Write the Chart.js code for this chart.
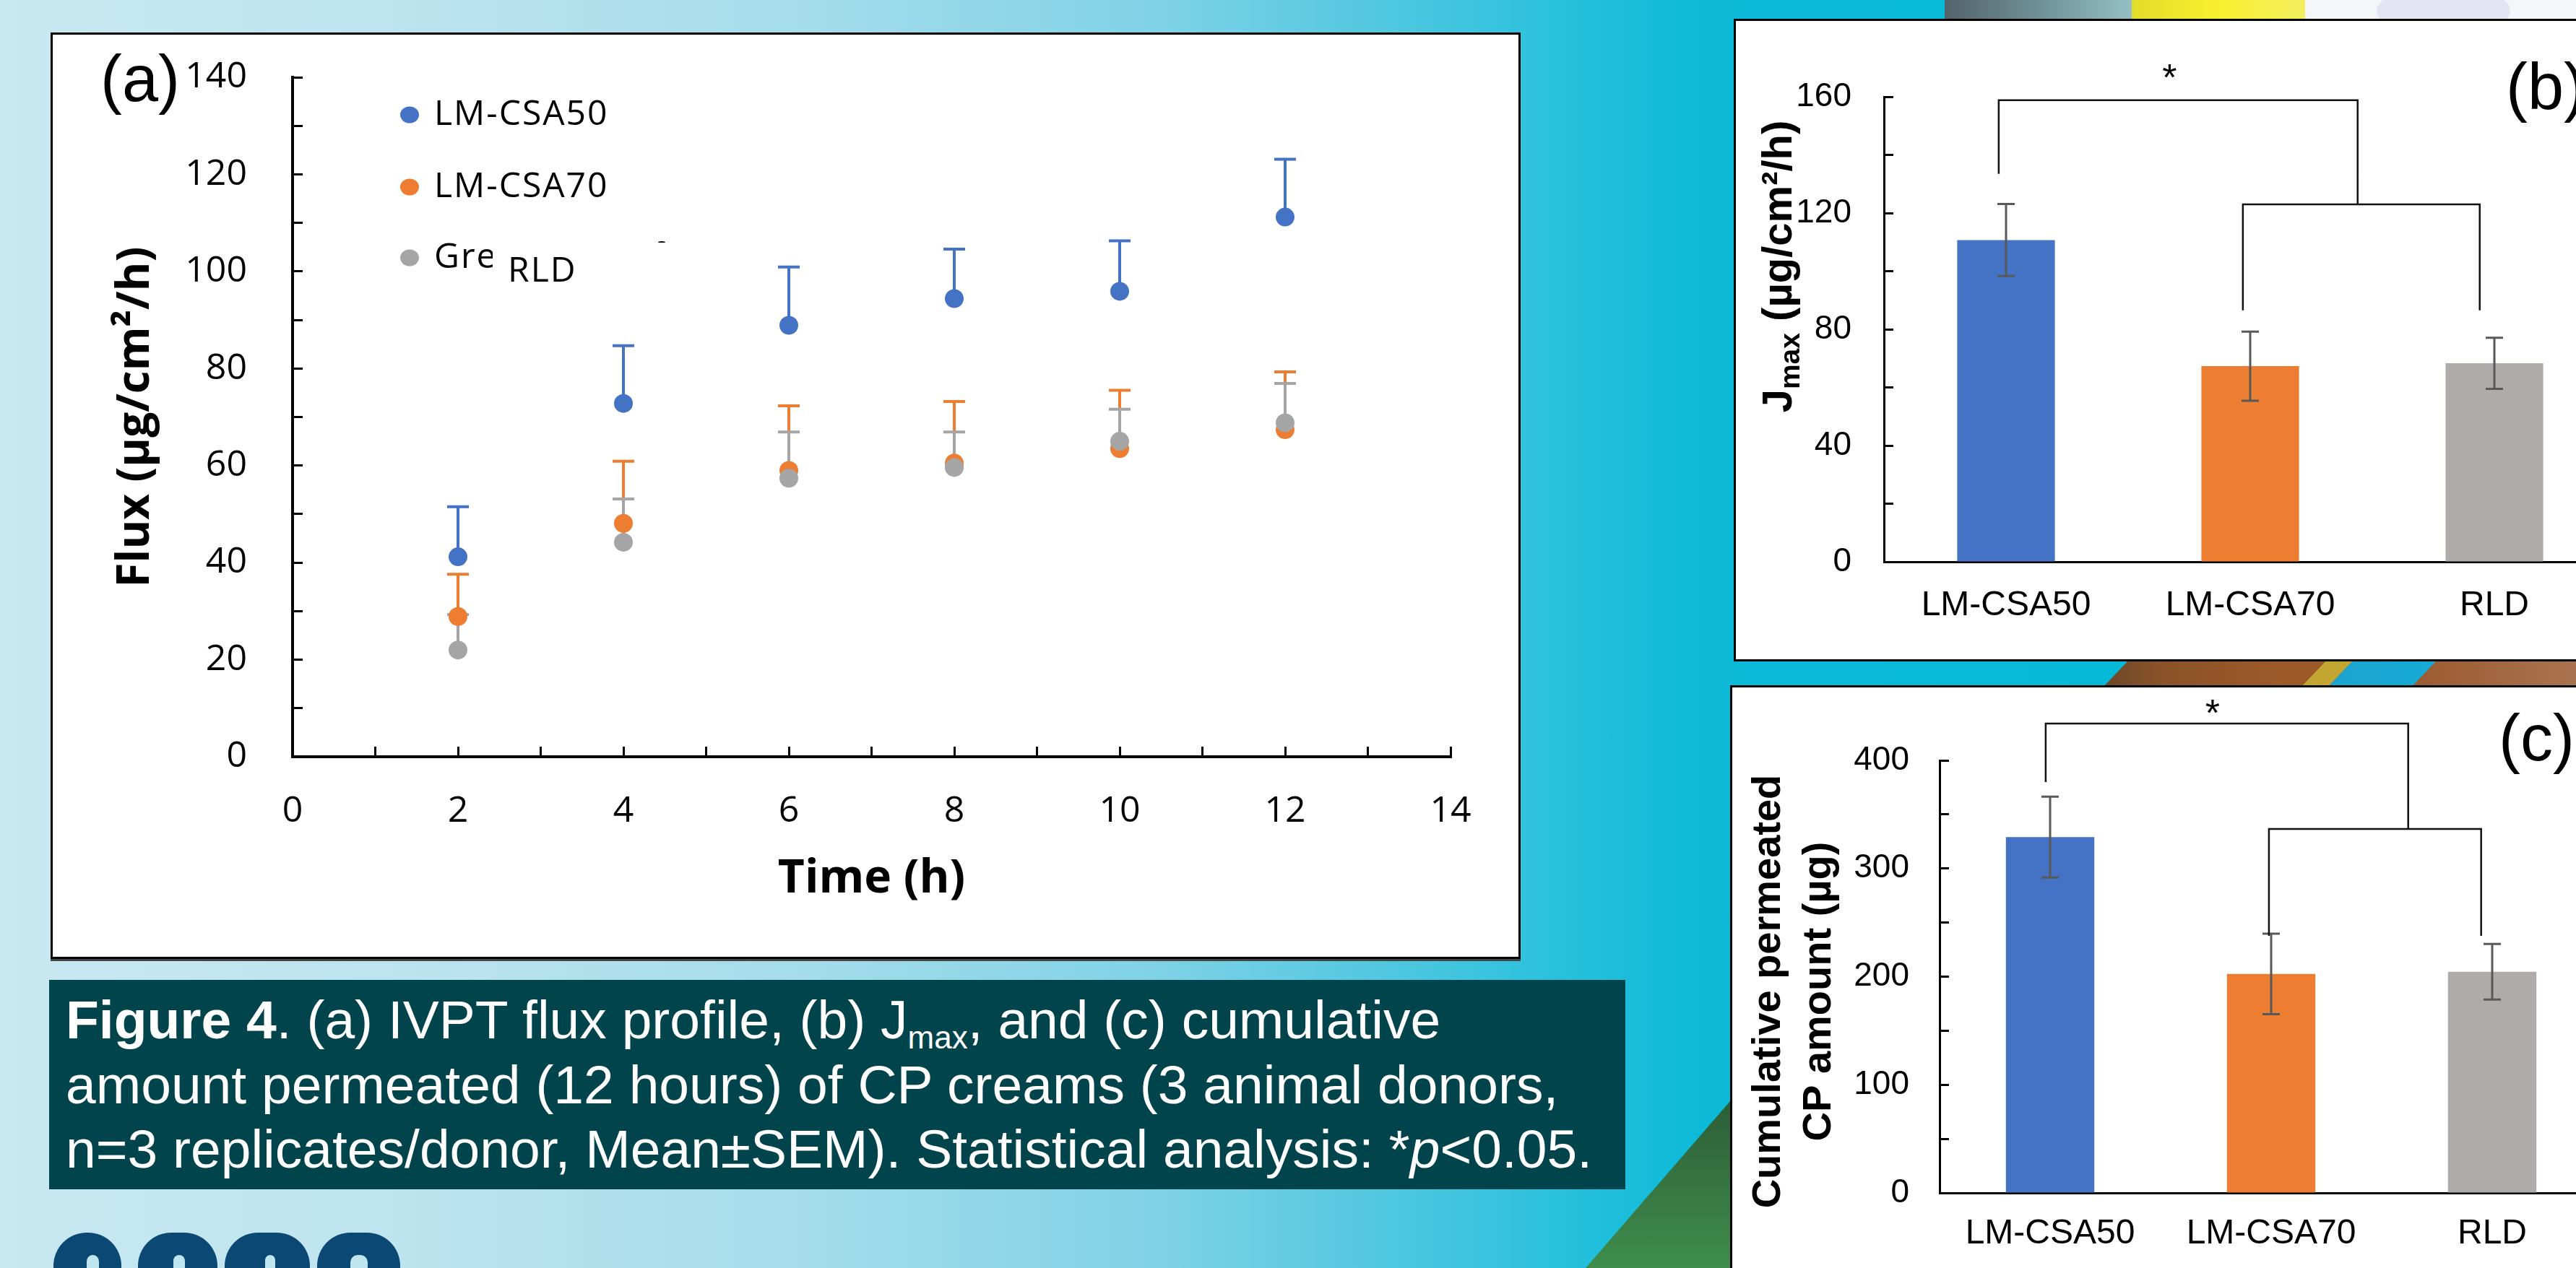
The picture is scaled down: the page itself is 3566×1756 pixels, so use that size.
<!DOCTYPE html>
<html>
<head>
<meta charset="utf-8">
<script src="https://cdn.jsdelivr.net/npm/chart.js@4.4.0/dist/chart.umd.min.js"></script>
<style>
html, body { margin: 0; padding: 0; }
body {
  width: 3566px; height: 1756px; overflow: hidden; position: relative;
  background: linear-gradient(90deg, #c9e8f1 0%, #bde4ef 15%, #a3dcea 32%, #7fd2e6 45%, #4fc7e0 54%, #2cc1dd 60%, #0cbad8 66%, #00b8d7 100%);
}
.abs { position: absolute; }
.panel { position: absolute; background: #fff; border: 3px solid #000; box-sizing: border-box; }
canvas { position: absolute; }
.lbl { position: absolute; font: 90px/90px "Liberation Sans", Arial, sans-serif; color: #000; white-space: nowrap; }
.logo { position: absolute; top: 1707px; height: 60px; background: #0b4873; border-radius: 46px 46px 0 0; }
.hole { position: absolute; top: 31px; height: 40px; background: #bfe5f0; border-radius: 10px 10px 0 0; }
#caption {
  position: absolute; left: 91px; top: 1368px; color: #fff; white-space: nowrap;
  font: 75px/89.5px "Liberation Sans", Arial, sans-serif;
}
#caption sub { font-size: 44px; line-height: 0; vertical-align: -14px; }
</style>
</head>
<body>

<!-- background shapes on the right -->
<div class="abs" style="left:2692px;top:0;width:260px;height:30px;background:linear-gradient(90deg,#53636a,#6f9097 50%,#94c0c5)"></div>
<div class="abs" style="left:2951px;top:0;width:240px;height:30px;background:linear-gradient(90deg,#e2dc2c,#f8f02e 50%,#f3ee60)"></div>
<div class="abs" style="left:3191px;top:0;width:375px;height:30px;background:#f5f6fa"></div>
<div class="abs" style="left:3290px;top:-20px;width:185px;height:70px;border-radius:50%;background:#e3e6f2"></div>

<div class="abs" style="left:2890px;top:912px;width:676px;height:42px;clip-path:polygon(59px 0,676px 0,676px 42px,19px 42px);background:linear-gradient(90deg,#64452a,#8a5229 15%,#9c5a2a 40%)"></div>
<div class="abs" style="left:3180px;top:912px;width:386px;height:42px;clip-path:polygon(43px 0,80px 0,40px 42px,3px 42px);background:#c2a631"></div>
<div class="abs" style="left:3215px;top:912px;width:351px;height:42px;clip-path:polygon(45px 0,161px 0,121px 42px,5px 42px);background:linear-gradient(90deg,#1ba4cf,#10b2dc)"></div>
<div class="abs" style="left:3330px;top:912px;width:236px;height:42px;clip-path:polygon(46px 0,236px 0,236px 42px,6px 42px);background:linear-gradient(90deg,#9a5a30,#a9734f)"></div>

<div class="abs" style="left:2195px;top:1525px;width:200px;height:231px;clip-path:polygon(200px 0,200px 231px,0 231px);background:linear-gradient(180deg,#2d5e37,#3f8d4d)"></div>

<!-- panels -->
<div class="panel" style="left:70px;top:45px;width:2035px;height:1283px;box-shadow:0 3px 0 #444"></div>
<div class="panel" style="left:2400px;top:26px;width:1300px;height:890px"></div>
<div class="panel" style="left:2395px;top:949px;width:1300px;height:900px"></div>

<canvas id="fluxChart" width="2029" height="1277" style="left:73px;top:48px"></canvas>
<canvas id="jmaxChart" width="1240" height="884" style="left:2403px;top:29px"></canvas>
<canvas id="cumChart" width="1245" height="804" style="left:2398px;top:952px"></canvas>

<div class="lbl" style="left:139px;top:64px">(a)</div>
<div class="lbl" style="left:3469px;top:75px">(b)</div>
<div class="lbl" style="left:3459px;top:977px">(c)</div>

<!-- caption -->
<div class="abs" style="left:68px;top:1357px;width:2182px;height:290px;background:#02444b"></div>
<div id="caption"><b>Figure 4</b>. (a) IVPT flux profile, (b) J<sub>max</sub>, and (c) cumulative<br>amount permeated (12 hours) of CP creams (3 animal donors,<br>n=3 replicates/donor, Mean±SEM). Statistical analysis: *<i>p</i>&lt;0.05.</div>

<!-- logo -->
<div class="logo" style="left:74px;width:94px"><div class="hole" style="left:46px;width:17px"></div></div>
<div class="logo" style="left:191px;width:110px"><div class="hole" style="left:49px;width:16px"></div></div>
<div class="logo" style="left:311px;width:118px"><div class="hole" style="left:56px;width:14px"></div></div>
<div class="logo" style="left:439px;width:115px"><div class="hole" style="left:46px;width:24px"></div></div>

<script>
// (a) flux profile
const times = [2, 4, 6, 8, 10, 12]
const fluxCSA50 = [41.2, 72.8, 88.9, 94.4, 95.9, 111.2]
const semCSA50 = [10.3, 11.9, 12.0, 10.2, 10.4, 11.9]
const fluxCSA70 = [28.9, 48.1, 59.0, 60.5, 63.5, 67.4]
const semCSA70 = [8.7, 12.8, 13.3, 12.7, 12.0, 11.9]
const fluxRLD = [22.0, 44.2, 57.4, 59.6, 65.0, 68.8]
const semRLD = [7.3, 8.9, 9.5, 7.3, 6.6, 8.1]
const seriesNames = ['LM-CSA50', 'LM-CSA70', 'RLD']

// (b) Jmax and (c) cumulative amount
const products = ['LM-CSA50', 'LM-CSA70', 'RLD']
const jmax = [110.7, 67.3, 68.3]
const jmaxSem = [12.4, 11.9, 8.8]
const cumAmount = [329.0, 202.5, 204.5]
const cumSem = [37.4, 37.2, 25.7]

// significance brackets (category index, value)
const sigJmax = [
  {x0: -0.03, x1: 1.44, y: 158.8, yl: 133.5, yr: 123},
  {x0: 0.97, x1: 1.94, y: 123, yl: 86.5, yr: 86.5}
]
const starJmax = {x: 0.67, y: 168.4}
const sigCum = [
  {x0: -0.02, x1: 1.62, y: 434, yl: 380, yr: 336.6},
  {x0: 0.99, x1: 1.95, y: 336.6, yl: 237.7, yr: 237.7}
]
const starCum = {x: 0.735, y: 448}

const blue = '#4472c4', orange = '#ed7d31', grey = '#a5a5a5'
const barColors = ['#4472c4', '#ed7d31', '#afabab']

Chart.defaults.font.family = '"Liberation Sans", Arial, sans-serif'
Chart.defaults.color = '#000'

// fixed axis boxes so the plot areas land where the figure has them
function fixWidth(w) {
  return s => { s.width = w; s.paddingTop = 0; s.paddingBottom = 0 }
}
function fixHeight(h) {
  return s => { s.height = h; s.paddingLeft = 0; s.paddingRight = 0 }
}

// upper error bars of the flux plot, drawn under all points
const errorBarsA = {
  id: 'errorBarsA',
  beforeDatasetsDraw(chart) {
    const {ctx, scales: {x, y}} = chart
    ctx.save()
    ctx.lineWidth = 4
    chart.data.datasets.forEach(ds => {
      ctx.strokeStyle = ds.backgroundColor
      ds.data.forEach((p, i) => {
        const px = x.getPixelForValue(p.x)
        const top = y.getPixelForValue(p.y + ds.sem[i])
        ctx.beginPath()
        ctx.moveTo(px, y.getPixelForValue(p.y))
        ctx.lineTo(px, top)
        ctx.moveTo(px - 15, top)
        ctx.lineTo(px + 15, top)
        ctx.stroke()
      })
    })
    ctx.restore()
  }
}

const legendA = {
  id: 'legendA',
  afterDraw(chart) {
    const ctx = chart.ctx
    const cols = [blue, orange, grey]
    ctx.save()
    ctx.font = '48px "Open Sans"'
    ctx.textBaseline = 'middle'
    ctx.letterSpacing = '2px'
    const ys = [111, 211, 309]
    cols.forEach((c, i) => {
      ctx.fillStyle = c
      ctx.beginPath()
      ctx.ellipse(494, ys[i], 13, 11.5, 0, 0, Math.PI * 2)
      ctx.fill()
    })
    ctx.fillStyle = '#000'
    ctx.fillText(seriesNames[0], 528, ys[0])
    ctx.fillText(seriesNames[1], 528, ys[1])
    ctx.save()
    ctx.beginPath()
    ctx.rect(520, 270, 89, 80)
    ctx.clip()
    ctx.fillText('Green', 528, ys[2])
    ctx.restore()
    ctx.fillText(seriesNames[2], 630, 328)
    ctx.beginPath()
    ctx.ellipse(843, 288, 5, 2, 0, Math.PI, Math.PI * 2)
    ctx.fill()
    ctx.restore()
  }
}

function barErrors(color) {
  return {
    id: 'barErrors',
    afterDatasetsDraw(chart) {
      const {ctx, scales: {x, y}} = chart
      const ds = chart.data.datasets[0]
      ctx.save()
      ctx.strokeStyle = color
      ctx.lineWidth = 3
      ds.data.forEach((v, i) => {
        const px = x.getPixelForValue(i)
        const top = y.getPixelForValue(v + ds.sem[i])
        const bot = y.getPixelForValue(v - ds.sem[i])
        ctx.beginPath()
        ctx.moveTo(px, top); ctx.lineTo(px, bot)
        ctx.moveTo(px - 12, top); ctx.lineTo(px + 12, top)
        ctx.moveTo(px - 12, bot); ctx.lineTo(px + 12, bot)
        ctx.stroke()
      })
      ctx.restore()
    }
  }
}

function brackets(sig, star) {
  return {
    id: 'brackets',
    afterDraw(chart) {
      const {ctx, scales: {x, y}} = chart
      ctx.save()
      ctx.strokeStyle = '#111'
      ctx.lineWidth = 2.5
      sig.forEach(b => {
        const xa = x.getPixelForValue(b.x0), xb = x.getPixelForValue(b.x1)
        ctx.beginPath()
        ctx.moveTo(xa, y.getPixelForValue(b.yl))
        ctx.lineTo(xa, y.getPixelForValue(b.y))
        ctx.lineTo(xb, y.getPixelForValue(b.y))
        ctx.lineTo(xb, y.getPixelForValue(b.yr))
        ctx.stroke()
      })
      ctx.fillStyle = '#000'
      ctx.font = '52px "Liberation Sans"'
      ctx.textAlign = 'center'
      ctx.textBaseline = 'middle'
      ctx.fillText('*', x.getPixelForValue(star.x), y.getPixelForValue(star.y) + 10)
      ctx.restore()
    }
  }
}

// rotated axis title with runs [text, size, baseline shift]
function rotTitle(lines, cy) {
  return {
    id: 'rotTitle',
    afterDraw(chart) {
      const ctx = chart.ctx
      ctx.save()
      ctx.fillStyle = '#000'
      ctx.textBaseline = 'alphabetic'
      lines.forEach(line => {
        let total = 0
        line.runs.forEach(r => {
          ctx.font = 'bold ' + r[1] + 'px "Liberation Sans"'
          total += ctx.measureText(r[0]).width
        })
        ctx.save()
        ctx.translate(line.x, cy)
        ctx.rotate(-Math.PI / 2)
        let pos = -total / 2
        line.runs.forEach(r => {
          ctx.font = 'bold ' + r[1] + 'px "Liberation Sans"'
          ctx.fillText(r[0], pos, r[2])
          pos += ctx.measureText(r[0]).width
        })
        ctx.restore()
      })
      ctx.restore()
    }
  }
}

const openSans = '"Open Sans", sans-serif'

new Chart(document.getElementById('fluxChart'), {
  type: 'scatter',
  data: {
    datasets: [
      {label: seriesNames[0], data: times.map((t, i) => ({x: t, y: fluxCSA50[i]})), sem: semCSA50,
       backgroundColor: blue, borderColor: blue, pointRadius: 13, pointBorderWidth: 0, order: 3},
      {label: seriesNames[1], data: times.map((t, i) => ({x: t, y: fluxCSA70[i]})), sem: semCSA70,
       backgroundColor: orange, borderColor: orange, pointRadius: 13, pointBorderWidth: 0, order: 2},
      {label: seriesNames[2], data: times.map((t, i) => ({x: t, y: fluxRLD[i]})), sem: semRLD,
       backgroundColor: grey, borderColor: grey, pointRadius: 13, pointBorderWidth: 0, order: 1}
    ]
  },
  options: {
    responsive: false,
    animation: false,
    layout: {padding: {top: 59, right: 94, left: 0, bottom: 0}},
    plugins: {legend: {display: false}, tooltip: {enabled: false}},
    scales: {
      x: {
        type: 'linear', min: 0, max: 14,
        afterFit: fixHeight(277),
        ticks: {stepSize: 1, autoSkip: false, maxRotation: 0, padding: 60, color: '#000',
                font: {family: openSans, size: 50}, callback: v => v % 2 === 0 ? v : ''},
        grid: {drawOnChartArea: false, tickLength: -14, tickWidth: 3, color: '#000'},
        border: {color: '#000', width: 4},
        title: {display: true, text: 'Time (h)', color: '#000',
                font: {family: openSans, size: 64, weight: 'bold'}, padding: {top: 0, bottom: 69}}
      },
      y: {
        min: 0, max: 140,
        afterFit: fixWidth(332),
        ticks: {stepSize: 10, maxTicksLimit: 100, autoSkip: false, padding: 77, color: '#000',
                font: {family: openSans, size: 50}, callback: v => v % 20 === 0 ? v : ''},
        grid: {drawOnChartArea: false, tickLength: -14, tickWidth: 3, color: '#000'},
        border: {color: '#000', width: 4},
        title: {display: true, text: 'Flux (µg/cm²/h)', color: '#000',
                font: {family: openSans, size: 62, weight: 'bold'}, padding: {top: 78, bottom: 0}}
      }
    }
  },
  plugins: [errorBarsA, legendA]
})

function barChart(id, values, sem, yMax, step, labelStep, geo, extra) {
  return new Chart(document.getElementById(id), {
    type: 'bar',
    data: {
      labels: products,
      datasets: [{data: values, sem: sem, backgroundColor: barColors, categoryPercentage: 1, barPercentage: 0.4}]
    },
    options: {
      responsive: false,
      animation: false,
      layout: {padding: {top: geo.top, right: geo.right, left: 0, bottom: 0}},
      plugins: {legend: {display: false}, tooltip: {enabled: false}},
      scales: {
        x: {
          afterFit: fixHeight(geo.xh),
          grid: {display: false, drawTicks: false},
          border: {color: '#000', width: 3},
          ticks: {padding: geo.xpad, color: '#000', font: {size: 48}}
        },
        y: {
          min: 0, max: yMax,
          afterFit: fixWidth(geo.yw),
          ticks: {stepSize: step, maxTicksLimit: 100, autoSkip: false, padding: geo.ypad, color: '#000',
                  font: {size: 46}, callback: v => v % labelStep === 0 ? v : ''},
          grid: {drawOnChartArea: false, tickLength: -13, tickWidth: 3, color: '#000'},
          border: {color: '#000', width: 3}
        }
      }
    },
    plugins: [barErrors('#595959')].concat(extra)
  })
}

barChart('jmaxChart', jmax, jmaxSem, 160, 20, 40,
  {top: 105, right: 21, xh: 135, yw: 205, xpad: 32, ypad: 58},
  [brackets(sigJmax, starJmax),
   rotTitle([{x: 77, runs: [['J', 58, 0], ['max', 39, 11], [' (µg/cm²/h)', 58, 0]]}], 340)])

barChart('cumChart', cumAmount, cumSem, 400, 50, 100,
  {top: 101, right: 40, xh: 104, yw: 287, xpad: 28, ypad: 55},
  [brackets(sigCum, starCum),
   rotTitle([{x: 66, runs: [['Cumulative permeated', 56, 0]]},
             {x: 136, runs: [['CP amount (µg)', 56, 0]]}], 421)])
</script>
</body>
</html>
